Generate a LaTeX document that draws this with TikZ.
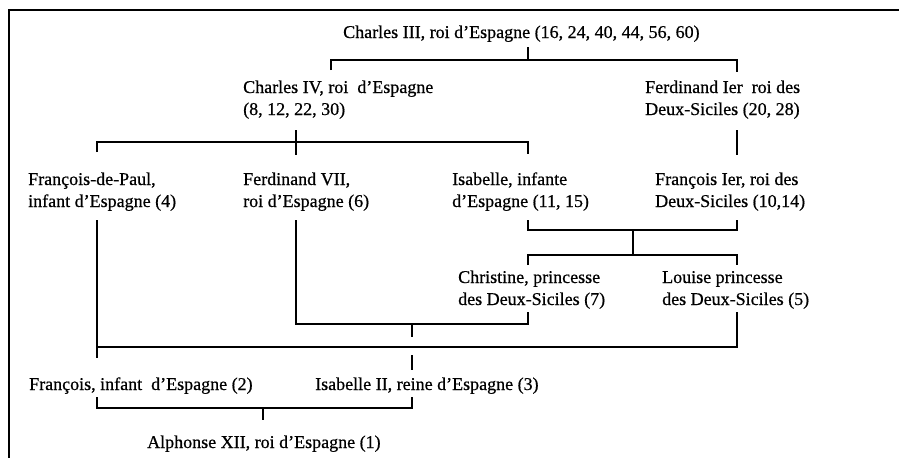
\documentclass[tikz,border=0pt]{standalone}
\usepackage{fontspec}
\setmainfont[FakeBold=0.6]{Liberation Serif}
\begin{document}
\begin{tikzpicture}[x=1pt,y=-1pt,
  person/.style={anchor=base west,align=left,inner sep=0pt,font=\fontsize{18}{22}\selectfont},
  link/.style={line width=2.8pt,line cap=butt},
  frame/.style={line width=2.8pt}]
\useasboundingbox (0,0) rectangle (899,458);
% frame
\coordinate (ftr) at (899,10);
\coordinate (ftl) at (9,10);
\coordinate (fbl) at (9,458);
\draw[frame] (ftr) -- (ftl) -- (fbl);
% persons (two-line nodes are placed by the baseline of their last line)
\node[person] (c3) at (343,38) {Charles III, roi d'Espagne (16, 24, 40, 44, 56, 60)};
\node[person] (c4) at (243,115) {Charles IV, roi~ d'Espagne\\(8, 12, 22, 30)};
\node[person] (f1) at (645,115) {Ferdinand Ier~ roi des\\Deux-Siciles (20, 28)};
\node[person] (fdp) at (28,207) {François-de-Paul,\\infant d'Espagne (4)};
\node[person] (f7) at (243,207) {Ferdinand VII,\\roi d'Espagne (6)};
\node[person] (isa) at (452,207) {Isabelle, infante\\d'Espagne (11, 15)};
\node[person] (fr1) at (655,207) {François Ier, roi des\\Deux-Siciles (10,14)};
\node[person] (chr) at (458,305) {Christine, princesse\\des Deux-Siciles (7)};
\node[person] (lou) at (662,305) {Louise princesse\\des Deux-Siciles (5)};
\node[person] (fra) at (29,390) {François, infant~ d'Espagne (2)};
\node[person] (is2) at (315,390) {Isabelle II, reine d'Espagne (3)};
\node[person] (alp) at (147,448) {Alphonse XII, roi d'Espagne (1)};
% junction coordinates
\coordinate (a1) at (528,47);  \coordinate (a2) at (528,60);
\coordinate (a3) at (331,70);  \coordinate (a4) at (331,60);
\coordinate (a5) at (737,60);  \coordinate (a6) at (737,72);
\coordinate (b1) at (296,130); \coordinate (b2) at (296,155);
\coordinate (b3) at (97,152);  \coordinate (b4) at (97,142);
\coordinate (b5) at (528,142); \coordinate (b6) at (528,154);
\coordinate (b7) at (737,130); \coordinate (b8) at (737,155);
\coordinate (d1) at (97,220);  \coordinate (d2) at (97,347);
\coordinate (d3) at (737,347); \coordinate (d4) at (737,312);
\coordinate (e1) at (296,220); \coordinate (e2) at (296,324);
\coordinate (e3) at (528,324); \coordinate (e4) at (528,312);
\coordinate (g1) at (528,220); \coordinate (g2) at (528,230);
\coordinate (g3) at (737,230); \coordinate (g4) at (737,220);
\coordinate (g5) at (633,230); \coordinate (g6) at (633,255);
\coordinate (h1) at (528,265); \coordinate (h2) at (528,255);
\coordinate (h3) at (737,255); \coordinate (h4) at (737,265);
\coordinate (t1) at (412,324); \coordinate (t2) at (412,337);
\coordinate (t3) at (412,355); \coordinate (t4) at (412,370);
\coordinate (t5) at (97,347);  \coordinate (t6) at (97,358);
\coordinate (k1) at (97,397);  \coordinate (k2) at (97,408);
\coordinate (k3) at (412,408); \coordinate (k4) at (412,397);
\coordinate (k5) at (263,408); \coordinate (k6) at (263,420);
% connectors
\draw[link] (a1) -- (a2);
\draw[link] (a3) -- (a4) -- (a5) -- (a6);
\draw[link] (b1) -- (b2);
\draw[link] (b3) -- (b4) -- (b5) -- (b6);
\draw[link] (b7) -- (b8);
\draw[link] (d1) -- (d2) -- (d3) -- (d4);
\draw[link] (e1) -- (e2) -- (e3) -- (e4);
\draw[link] (g1) -- (g2) -- (g3) -- (g4);
\draw[link] (g5) -- (g6);
\draw[link] (h1) -- (h2) -- (h3) -- (h4);
\draw[link] (t1) -- (t2);
\draw[link] (t3) -- (t4);
\draw[link] (t5) -- (t6);
\draw[link] (k1) -- (k2) -- (k3) -- (k4);
\draw[link] (k5) -- (k6);
\end{tikzpicture}
\end{document}
